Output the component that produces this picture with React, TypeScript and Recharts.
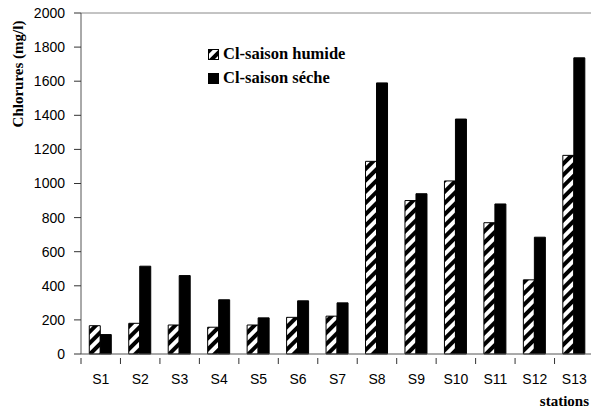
import React from 'react'
import { BarChart, Bar, XAxis, YAxis, ReferenceLine } from 'recharts'

const stations = ['S1', 'S2', 'S3', 'S4', 'S5', 'S6', 'S7', 'S8', 'S9', 'S10', 'S11', 'S12', 'S13']
const saisonHumide = [166, 180, 170, 157, 170, 215, 222, 1130, 900, 1015, 770, 435, 1165]
const saisonSeche = [114, 515, 460, 318, 212, 312, 300, 1590, 940, 1378, 880, 685, 1737]
const yTicks = [0, 200, 400, 600, 800, 1000, 1200, 1400, 1600, 1800, 2000]

const data = stations.map((s, i) => ({
  station: s,
  humide: saisonHumide[i],
  seche: saisonSeche[i],
}))

const serif = '"Liberation Serif", "Times New Roman", serif'
const sans = '"Liberation Sans", Arial, sans-serif'

// category tick: label at the centre, tick mark on the left edge of the band
const StationTick = ({ x, y, payload, band }: any) => (
  <g>
    <line x1={x - band / 2} x2={x - band / 2} y1={y - 4} y2={y + 2} stroke="#333" />
    <text x={x} y={y + 22} textAnchor="middle" fontFamily={sans} fontSize={14} fill="#000">
      {payload.value}
    </text>
  </g>
)

const LegendBox = () => (
  <div
    style={{
      position: 'absolute',
      left: 208,
      top: 42,
      fontFamily: serif,
      fontWeight: 'bold',
      fontSize: 16.5,
      color: '#000',
      lineHeight: '24px',
    }}
  >
    <div style={{ display: 'flex', alignItems: 'center', gap: 4 }}>
      <svg width={11} height={11}>
        <rect x={0.5} y={0.5} width={10} height={10} fill="url(#hatch)" stroke="#000" />
      </svg>
      <span>Cl-saison humide</span>
    </div>
    <div style={{ display: 'flex', alignItems: 'center', gap: 4 }}>
      <svg width={11} height={11}>
        <rect x={0} y={0} width={11} height={11} fill="#000" />
      </svg>
      <span>Cl-saison séche</span>
    </div>
  </div>
)

export default function App() {
  const width = 600
  const plotLeft = 81
  const plotWidth = 513
  const band = plotWidth / stations.length
  return (
    <div style={{ position: 'absolute', left: 0, top: 0, width: 591, height: 412, overflow: 'hidden', background: '#fff' }}>
      <svg width={0} height={0} style={{ position: 'absolute' }}>
        <defs>
          <pattern id="hatch" patternUnits="userSpaceOnUse" width={8} height={8} patternTransform="rotate(45)">
            <rect x={0} y={0} width={8} height={8} fill="#fff" />
            <rect x={0} y={0} width={4} height={8} fill="#000" />
          </pattern>
        </defs>
      </svg>
      <BarChart
        width={width}
        height={412}
        data={data}
        margin={{ top: 13, right: width - plotLeft - plotWidth, left: 0, bottom: 0 }}
        barCategoryGap="21%"
        barGap={0}
      >
        <XAxis
          dataKey="station"
          axisLine={{ stroke: '#555' }}
          tickLine={false}
          height={58}
          interval={0}
          tick={<StationTick band={band} />}
          label={{
            value: 'stations',
            position: 'insideBottomRight',
            offset: 6,
            dx: 1,
            style: { fontFamily: serif, fontWeight: 'bold', fontSize: 15, fill: '#000' },
          }}
        />
        <YAxis
          domain={[0, 2000]}
          ticks={yTicks}
          interval={0}
          width={plotLeft}
          axisLine={{ stroke: '#555' }}
          tickLine={{ stroke: '#333' }}
          tickSize={7}
          tickMargin={9}
          tick={{ fontFamily: sans, fontSize: 14, fill: '#000' }}
          label={{
            value: 'Chlorures (mg/l)',
            angle: -90,
            position: 'insideTopLeft',
            dx: 7,
            dy: 56,
            style: { fontFamily: serif, fontWeight: 'bold', fontSize: 15, fill: '#000', textAnchor: 'middle' },
          }}
        />
        <ReferenceLine y={2000} stroke="#888" />
        <Bar dataKey="humide" fill="url(#hatch)" stroke="#000" strokeWidth={1} isAnimationActive={false} />
        <Bar dataKey="seche" fill="#000" stroke="#000" strokeWidth={1} isAnimationActive={false} />
      </BarChart>
      <LegendBox />
    </div>
  )
}
